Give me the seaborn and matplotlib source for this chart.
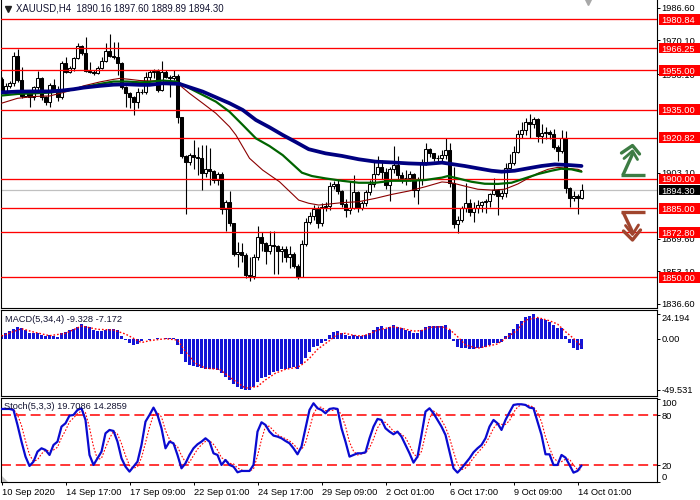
import numpy as np
import matplotlib
matplotlib.use("Agg")
import matplotlib.pyplot as plt
from matplotlib.patches import Rectangle, Polygon
import seaborn as sns

sns.set_style("white")
plt.rcParams['font.family'] = ['Liberation Sans', 'DejaVu Sans']

# ---------------- data ----------------
title_text = "XAUUSD,H4  1890.16 1897.60 1889.89 1894.30"
macd_title = "MACD(5,34,4) -9.328 -7.172"
stoch_title = "Stoch(5,3,3) 19.7086 14.2859"

open_ = [1950.4, 1944.2, 1947.0, 1948.7, 1962.3, 1950.1, 1942.0, 1943.5, 1941.3, 1946.4,
         1950.9, 1941.3, 1939.1, 1947.6, 1945.0, 1941.3, 1958.9, 1954.3, 1956.0, 1961.1,
         1967.3, 1964.0, 1954.8, 1954.0, 1953.5, 1956.0, 1959.9, 1965.0, 1962.4, 1961.6,
         1958.5, 1946.4, 1943.3, 1941.3, 1939.1, 1944.2, 1944.0, 1951.8, 1954.3, 1954.8,
         1945.0, 1954.3, 1951.8, 1950.9, 1952.1, 1931.2, 1911.6, 1908.7, 1912.0, 1911.2,
         1910.4, 1903.1, 1905.0, 1903.8, 1899.4, 1902.4, 1884.7, 1888.0, 1877.4, 1861.9,
         1863.1, 1861.6, 1851.3, 1850.5, 1860.6, 1870.7, 1867.3, 1863.6, 1866.5, 1865.7,
         1863.6, 1864.3, 1860.6, 1861.9, 1855.8, 1850.4, 1866.8, 1878.3, 1881.2, 1884.7,
         1877.5, 1885.6, 1886.1, 1896.4, 1897.4, 1893.6, 1887.0, 1884.2, 1885.0, 1893.1,
         1885.0, 1887.6, 1893.1, 1897.2, 1902.3, 1906.2, 1903.4, 1896.9, 1904.8, 1907.0,
         1901.9, 1900.3, 1900.2, 1902.4, 1894.4, 1899.6, 1908.7, 1915.0, 1913.0, 1910.4,
         1910.7, 1912.0, 1914.6, 1897.7, 1877.1, 1879.2, 1885.1, 1887.9, 1883.4, 1885.1,
         1886.7, 1888.1, 1888.6, 1892.2, 1894.4, 1891.4, 1892.8, 1905.6, 1908.2, 1913.8,
         1922.7, 1924.8, 1929.0, 1927.8, 1930.2, 1921.7, 1923.4, 1923.9, 1922.6, 1916.3,
         1914.3, 1920.5, 1895.2, 1890.1, 1891.5, 1890.16]
high = [1951.5, 1948.5, 1949.5, 1964.5, 1965.6, 1956.5, 1945.0, 1945.0, 1947.0, 1954.8,
        1951.5, 1942.0, 1948.5, 1950.4, 1947.0, 1959.5, 1961.9, 1957.0, 1961.9, 1968.7,
        1968.0, 1971.7, 1959.4, 1955.0, 1957.0, 1961.9, 1968.7, 1973.4, 1969.5, 1969.5,
        1959.0, 1947.0, 1944.0, 1942.0, 1946.0, 1945.5, 1954.3, 1955.0, 1955.5, 1955.5,
        1959.9, 1955.0, 1952.5, 1955.0, 1953.0, 1931.5, 1912.0, 1913.0, 1919.7, 1916.3,
        1917.0, 1917.0, 1915.5, 1904.5, 1903.5, 1903.5, 1889.5, 1894.0, 1877.5, 1868.2,
        1867.7, 1862.5, 1860.6, 1862.0, 1876.0, 1872.8, 1868.0, 1873.6, 1873.6, 1866.5,
        1866.0, 1865.7, 1866.0, 1863.0, 1857.0, 1869.0, 1880.0, 1883.3, 1886.7, 1886.0,
        1887.5, 1888.0, 1898.6, 1899.0, 1900.0, 1894.5, 1889.6, 1899.0, 1901.9, 1894.0,
        1889.0, 1894.5, 1899.4, 1909.2, 1911.6, 1909.5, 1905.5, 1906.0, 1916.6, 1911.6,
        1903.5, 1904.5, 1904.0, 1903.0, 1901.0, 1910.0, 1918.3, 1915.5, 1913.0, 1912.0,
        1914.6, 1920.5, 1918.0, 1906.0, 1881.0, 1886.0, 1897.7, 1890.0, 1888.0, 1889.3,
        1889.0, 1889.6, 1893.0, 1900.3, 1895.0, 1894.5, 1908.2, 1912.6, 1916.8, 1924.8,
        1929.0, 1931.0, 1932.9, 1931.5, 1931.0, 1928.0, 1926.5, 1924.8, 1925.4, 1917.0,
        1924.5, 1924.0, 1896.0, 1893.6, 1892.5, 1897.60]
low = [1943.5, 1943.5, 1946.0, 1947.0, 1949.0, 1941.0, 1941.5, 1936.6, 1940.0, 1945.0,
       1940.0, 1937.4, 1936.6, 1944.0, 1939.6, 1940.5, 1953.5, 1953.5, 1954.5, 1960.5,
       1963.0, 1954.0, 1953.5, 1952.5, 1953.0, 1955.5, 1959.0, 1961.5, 1960.5, 1952.6,
       1945.5, 1936.6, 1935.7, 1932.3, 1936.0, 1943.0, 1943.0, 1950.0, 1951.0, 1944.0,
       1944.5, 1951.0, 1941.6, 1950.0, 1928.2, 1910.5, 1882.2, 1907.0, 1905.0, 1902.0,
       1894.3, 1901.0, 1896.9, 1898.0, 1897.0, 1882.0, 1873.4, 1876.0, 1861.0, 1855.5,
       1858.0, 1849.8, 1848.4, 1849.0, 1859.0, 1863.5, 1857.0, 1862.0, 1852.0, 1852.0,
       1858.0, 1858.0, 1855.0, 1855.0, 1849.0, 1850.0, 1866.0, 1877.0, 1879.0, 1874.9,
       1876.0, 1883.5, 1884.0, 1895.0, 1892.5, 1885.5, 1880.8, 1882.0, 1884.5, 1883.0,
       1884.0, 1886.0, 1892.0, 1896.0, 1902.0, 1900.0, 1895.0, 1889.0, 1903.0, 1900.0,
       1898.0, 1897.0, 1899.0, 1891.0, 1887.0, 1897.0, 1907.0, 1911.0, 1909.0, 1908.0,
       1909.0, 1910.0, 1896.0, 1874.9, 1872.7, 1878.0, 1883.0, 1881.0, 1878.3, 1882.9,
       1883.0, 1882.9, 1885.9, 1892.0, 1881.7, 1890.0, 1891.0, 1905.0, 1907.0, 1913.0,
       1920.5, 1922.0, 1920.5, 1926.0, 1918.8, 1918.0, 1920.0, 1920.0, 1915.0, 1909.0,
       1913.0, 1893.0, 1885.9, 1888.5, 1882.2, 1889.89]
close = [1944.2, 1947.0, 1948.7, 1962.3, 1950.1, 1942.0, 1943.5, 1941.3, 1946.4, 1950.9,
         1941.3, 1939.1, 1947.6, 1945.0, 1941.3, 1958.9, 1954.3, 1956.0, 1961.1, 1967.3,
         1964.0, 1954.8, 1954.0, 1953.5, 1956.0, 1959.9, 1965.0, 1962.4, 1961.6, 1958.5,
         1946.4, 1943.3, 1941.3, 1939.1, 1944.2, 1944.0, 1951.8, 1954.3, 1954.8, 1945.0,
         1954.3, 1951.8, 1950.9, 1952.1, 1931.2, 1911.6, 1908.7, 1912.0, 1911.2, 1910.4,
         1903.1, 1905.0, 1903.8, 1899.4, 1902.4, 1884.7, 1888.0, 1877.4, 1861.9, 1863.1,
         1861.6, 1851.3, 1850.5, 1860.6, 1870.7, 1867.3, 1863.6, 1866.5, 1865.7, 1863.6,
         1864.3, 1860.6, 1861.9, 1855.8, 1850.4, 1866.8, 1878.3, 1881.2, 1884.7, 1877.5,
         1885.6, 1886.1, 1896.4, 1897.4, 1893.6, 1887.0, 1884.2, 1885.0, 1893.1, 1885.0,
         1887.6, 1893.1, 1897.2, 1902.3, 1906.2, 1903.4, 1896.9, 1904.8, 1907.0, 1901.9,
         1900.3, 1900.2, 1902.4, 1894.4, 1899.6, 1908.7, 1915.0, 1913.0, 1910.4, 1910.7,
         1912.0, 1914.6, 1897.7, 1877.1, 1879.2, 1885.1, 1887.9, 1883.4, 1885.1, 1886.7,
         1888.1, 1888.6, 1892.2, 1894.4, 1891.4, 1892.8, 1905.6, 1908.2, 1913.8, 1922.7,
         1924.8, 1929.0, 1927.8, 1930.2, 1921.7, 1923.4, 1923.9, 1922.6, 1916.3, 1914.3,
         1920.5, 1895.2, 1890.1, 1891.5, 1890.16, 1894.30]

# moving averages (bar index, price)
ma_slow_x = [0, 4, 8, 12, 15, 18, 20.5, 24.6, 28, 31.3, 34.6, 37, 40.3, 44.5, 47, 50.3, 53.6,
             57, 60.3, 63.6, 67, 70.3, 73.6, 76.8, 81, 85.1, 89.3, 93.5, 97.6, 101.8, 106,
             110.1, 112.5, 115.8, 119.1, 122.5, 125, 128.3, 131.6, 135, 138.3, 141.6, 145]
ma_slow_y = [1943.8, 1944.2, 1944.3, 1944.3, 1944.7, 1945.4, 1946.2, 1947.1, 1947.7, 1947.9,
             1947.6, 1947.6, 1948.4, 1948.1, 1946.4, 1944.2, 1941.3, 1938.3, 1934.9, 1929.8,
             1926.1, 1922.2, 1918.6, 1915.0, 1912.9, 1911.6, 1909.9, 1908.7, 1908.3, 1907.8,
             1907.5, 1908.2, 1907.5, 1906.5, 1905.3, 1904.1, 1903.6, 1904.1, 1905.3, 1906.5,
             1907.3, 1907.0, 1906.5]
ma_mid_x = [0, 4, 8, 12, 16.3, 20.5, 24.6, 28, 31.3, 34.6, 37, 40.3, 43.6, 47, 50.3, 53.6, 57,
            60.3, 63.6, 67, 70.3, 73, 75.1, 77.6, 81, 85.1, 89.3, 93.5, 97.6, 101.8, 106,
            110.1, 111.6, 114.1, 117.5, 120.8, 124.1, 127.5, 130.8, 134.1, 137.5, 139.9,
            142.5, 145]
ma_mid_y = [1942.2, 1943.0, 1943.3, 1943.7, 1944.7, 1946.4, 1948.1, 1949.3, 1949.3, 1948.9,
            1949.1, 1949.8, 1949.3, 1945.9, 1942.5, 1939.1, 1934.0, 1927.3, 1920.5, 1916.6,
            1912.0, 1907.0, 1903.1, 1901.4, 1900.2, 1899.0, 1898.0, 1898.0, 1899.0, 1899.0,
            1899.4, 1900.6, 1901.4, 1900.2, 1898.5, 1897.5, 1897.4, 1898.0, 1900.2, 1902.4,
            1904.1, 1905.1, 1904.8, 1903.6]
ma_fast_x = [0, 4, 8, 12.1, 16.3, 20.5, 24.6, 28, 29.6, 32.1, 34.6, 37, 40.3, 44, 47, 50.3,
             53.6, 57, 58.6, 60.3, 62, 65.3, 69.5, 72.6, 74.3, 76.8, 79.3, 81.8, 85.1, 89.3,
             93.5, 97.6, 101.8, 106, 110.1, 112.5, 115.8, 119.1, 122.5, 125.8, 129.1, 131.6,
             134.1, 136.6, 139.1, 141.6, 144.1, 145]
ma_fast_y = [1938.3, 1940.8, 1941.7, 1942.0, 1944.2, 1947.1, 1949.1, 1950.4, 1950.9, 1950.4,
             1949.8, 1949.6, 1949.8, 1948.4, 1943.3, 1938.3, 1933.2, 1926.4, 1922.2, 1916.3,
             1910.4, 1904.4, 1898.5, 1892.5, 1889.2, 1887.6, 1886.7, 1887.2, 1887.9, 1888.4,
             1890.1, 1892.1, 1893.8, 1896.0, 1898.4, 1898.0, 1896.3, 1894.7, 1894.3, 1894.7,
             1897.4, 1900.2, 1902.8, 1904.8, 1905.8, 1905.3, 1904.8, 1904.1]

levels = [1980.84, 1966.25, 1955.00, 1935.00, 1920.82, 1900.00, 1885.00, 1872.80, 1850.00]
current_price = 1894.30
# price-scale labels that stay at least partly visible beside the level boxes
price_ticks = [1986.60, 1970.10, 1953.10, 1903.10, 1869.60, 1853.10, 1836.60]

macd_hist = [3.9, 5.5, 7.4, 9.4, 11.9, 10.6, 8.7, 6.1, 5.5, 6.1,
             4.2, 3.2, 3.5, 2.9, 1.9, 6.1, 6.8, 8.7, 10.0, 11.9,
             14.5, 12.6, 11.9, 8.7, 7.7, 7.7, 8.7, 10.0, 9.4, 8.7,
             2.9, -1.0, -3.5, -5.8, -4.8, -2.3, -0.3, -0.6, 0.3, 1.0,
             0.4, 1.3, 0.6, 0.6, -5.8, -14.8, -21.9, -25.2, -26.1, -27.4,
             -28.4, -28.7, -29.0, -29.4, -30.0, -33.2, -36.5, -39.7, -43.5, -46.8,
             -48.7, -49.3, -49.531, -46.8, -41.3, -38.1, -36.5, -34.8, -31.6, -30.6,
             -29.4, -29.0, -28.4, -27.4, -29.0, -24.2, -18.1, -12.3, -8.1, -6.8,
             -3.5, -1.9, 3.9, 6.8, 7.7, 5.5, 3.9, 2.9, 3.5, 2.9,
             2.9, 3.9, 5.8, 8.4, 11.6, 12.6, 9.7, 11.6, 13.5, 11.9,
             11.0, 8.7, 7.7, 6.1, 6.1, 8.7, 11.6, 12.6, 12.6, 12.6,
             12.6, 13.5, 8.7, -1.6, -7.4, -8.4, -8.4, -9.4, -9.4, -9.0,
             -8.4, -8.1, -5.8, -3.5, -3.5, -2.6, 2.9, 5.8, 9.7, 14.5,
             17.4, 21.3, 22.3, 24.194, 20.6, 19.4, 18.4, 16.5, 13.5, 10.6,
             10.6, 2.9, -3.5, -8.4, -10.6, -9.328]
macd_sig_x = [0, 5, 8, 12, 16, 20, 24, 28, 31, 35, 37, 41, 44, 46, 48.5, 51, 54.5, 58, 61, 64,
              66, 68.5, 71, 74, 75, 77, 79, 82, 84, 86, 88, 90, 92, 94, 96, 98, 100, 103, 105,
              107, 110, 112, 114, 116, 119, 121, 124, 126, 129, 131, 134, 137, 139, 141, 143,
              145]
macd_sig_y = [2.9, 10.0, 6.8, 3.2, 5.5, 12.6, 9.4, 8.7, 4.8, -3.5, -1.6, 0.3, -1.0, -12.3,
              -23.5, -28.4, -29.4, -39.7, -47.7, -46.1, -39.7, -33.2, -29.4, -27.4, -25.2,
              -18.7, -10.0, -1.6, 4.8, 5.5, 3.5, 2.9, 4.8, 8.7, 10.3, 11.9, 10.3, 7.7, 8.1,
              11.3, 11.9, 9.4, 2.3, -5.8, -9.0, -7.4, -4.8, 0.6, 8.7, 18.4, 20.9, 17.7, 14.5,
              7.1, 0.6, -7.172]
macd_ticks = [24.194, 0.0, -49.531]
macd_tick_labels = ["24.194", "0.00", "-49.531"]

stoch_k = [87.6, 87.6, 87.6, 86.4, 68.4, 48.4, 30.4, 19.2, 24.4, 36.4,
           40.4, 38.4, 32.4, 44.4, 48.4, 66.4, 70.4, 79.6, 80.4, 86.4,
           88.4, 74.4, 32.4, 20.4, 28.4, 36.4, 58.4, 62.4, 61.2, 48.4,
           28.4, 18.4, 12.4, 18.4, 24.4, 44.4, 72.4, 80.4, 89.2, 80.4,
           64.4, 40.4, 48.4, 46.4, 32.4, 16.4, 22.4, 32.4, 40.4, 45.2,
           48.4, 52.4, 48.4, 34.4, 32.4, 20.4, 26.4, 20.4, 18.4, 11.6,
           13.2, 13.2, 13.2, 20.4, 60.4, 71.6, 68.4, 60.4, 55.6, 54.4,
           52.4, 49.2, 46.4, 40.4, 33.2, 42.4, 64.4, 86.4, 94.4, 88.4,
           86.4, 82.4, 87.6, 88.4, 87.6, 64.4, 48.4, 30.4, 32.4, 34.4,
           34.4, 35.6, 52.4, 66.4, 75.6, 74.4, 64.4, 60.4, 57.2, 60.4,
           54.4, 44.4, 34.4, 23.2, 30.4, 56.4, 84.4, 88.4, 82.4, 74.4,
           66.4, 56.4, 36.4, 16.4, 11.2, 16.4, 22.4, 28.4, 35.6, 40.4,
           44.4, 52.4, 66.4, 74.4, 70.4, 62.4, 74.4, 83.6, 92.4, 93.2,
           93.2, 92.4, 89.2, 88.4, 72.4, 56.4, 33.2, 33.2, 20.4, 20.4,
           32.4, 29.2, 20.4, 11.2, 13.2, 19.7086]
stoch_d = [88.0, 88.0, 87.6, 87.2, 80.8, 67.7, 49.1, 32.7, 24.7, 26.7,
           33.7, 38.4, 37.1, 38.4, 41.7, 53.1, 61.7, 72.1, 76.8, 82.1,
           85.1, 83.1, 65.1, 42.4, 27.1, 28.4, 41.1, 52.4, 60.7, 57.3,
           46.0, 31.7, 19.7, 16.4, 18.4, 29.1, 47.1, 65.7, 80.7, 83.3,
           78.0, 61.7, 51.1, 45.1, 42.4, 31.7, 23.7, 23.7, 31.7, 39.3,
           44.7, 48.7, 49.7, 45.1, 38.4, 29.1, 26.4, 22.4, 21.7, 16.8,
           14.4, 12.7, 13.2, 15.6, 31.3, 50.8, 66.8, 66.8, 61.5, 56.8,
           54.1, 52.0, 49.3, 45.3, 40.0, 38.7, 46.7, 64.4, 81.7, 89.7,
           89.7, 85.7, 85.5, 86.1, 87.9, 80.1, 66.8, 47.7, 37.1, 32.4,
           33.7, 34.8, 40.8, 51.5, 64.8, 72.1, 71.5, 66.4, 60.7, 59.3,
           57.3, 53.1, 44.4, 34.0, 29.3, 36.7, 57.1, 76.4, 85.1, 81.7,
           74.4, 65.7, 53.1, 36.4, 21.3, 14.7, 16.7, 22.4, 28.8, 34.8,
           40.1, 45.7, 54.4, 64.4, 70.4, 69.1, 69.1, 73.5, 83.5, 89.7,
           92.9, 92.9, 91.6, 89.9, 83.3, 72.3, 54.0, 40.9, 28.9, 24.6,
           24.4, 27.3, 27.3, 20.3, 14.9, 14.2859]
stoch_levels = [80, 20]
stoch_ticks = [100, 80, 20, 0]

date_tick_bars = [0, 16, 32, 48, 64, 80, 96, 112, 128, 144]
date_tick_labels = ["10 Sep 2020", "14 Sep 17:00", "17 Sep 09:00", "22 Sep 01:00",
                    "24 Sep 17:00", "29 Sep 09:00", "2 Oct 01:00", "6 Oct 17:00",
                    "9 Oct 09:00", "14 Oct 01:00"]

# ---------------- layout ----------------
W, H = 700, 500
FS = 6.7


def rect(left, top, right, bottom):
    return [left / W, 1 - bottom / H, (right - left) / W, (bottom - top) / H]


fig = plt.figure(figsize=(7, 5), dpi=100)
fig.patch.set_facecolor("white")
ax = fig.add_axes(rect(1, 0.5, 657, 307.7))
axm = fig.add_axes(rect(1, 310.3, 657, 395.7), sharex=ax)
axs = fig.add_axes(rect(1, 397.7, 657, 482.3), sharex=ax)

for a in (ax, axm, axs):
    a.set_facecolor("white")
    for sp in a.spines.values():
        sp.set_color("black")
        sp.set_linewidth(0.8)
    a.yaxis.tick_right()
    a.tick_params(axis="y", right=True, left=False, direction="out", length=2.2,
                  width=0.7, pad=1.2, labelsize=FS, colors="black")
    a.tick_params(axis="x", bottom=False, labelbottom=False)
    a.grid(False)
ax.spines["top"].set_visible(False)

ax.set_xlim(-0.125, 163.875)

# ---------------- main price panel ----------------
x = np.arange(len(close))
o = np.array(open_)
c = np.array(close)
h = np.array(high)
l = np.array(low)
up = c >= o
ax.vlines(x, l, h, color="black", lw=0.8, zorder=3)
heights = np.where(np.abs(c - o) < 0.12, 0.12, c - o)
ax.bar(x, heights, bottom=o, width=0.52, color=np.where(up, "white", "black"),
       edgecolor="black", linewidth=0.75, zorder=4)

for lvl in levels:
    ax.axhline(lvl, color="#ff0000", lw=0.95, zorder=4.5)
ax.axhline(current_price, color="#c0c0c0", lw=0.9, zorder=1)

sns.lineplot(x=ma_fast_x, y=ma_fast_y, ax=ax, color="#8b0000", linewidth=0.8, zorder=5)
sns.lineplot(x=ma_mid_x, y=ma_mid_y, ax=ax, color="#006400", linewidth=1.6, zorder=5.1)
sns.lineplot(x=ma_slow_x, y=ma_slow_y, ax=ax, color="#000080", linewidth=2.7, zorder=5.2)

ax.set_ylim(1834.67, 1990.37)
ax.set_yticks(price_ticks)
ax.set_yticklabels([f"{p:.2f}" for p in price_ticks])
ax.set_ylabel("")
ax.set_xlabel("")

# level label boxes on the price scale
ytr = ax.get_yaxis_transform()
box_h = 10.5 / 1.973
for lvl in levels:
    ax.add_patch(Rectangle((1 + 1.5 / 656, lvl - box_h / 2), 41.5 / 656, box_h,
                           transform=ytr, facecolor="#ff0000", edgecolor="none",
                           clip_on=False, zorder=10))
    ax.text(1 + 4.5 / 656, lvl, f"{lvl:.2f}", transform=ytr, color="white",
            fontsize=FS, ha="left", va="center_baseline", clip_on=False, zorder=11)
ax.add_patch(Rectangle((1 + 1.5 / 656, current_price - box_h / 2), 41.5 / 656, box_h,
                       transform=ytr, facecolor="black", edgecolor="none",
                       clip_on=False, zorder=10))
ax.text(1 + 4.5 / 656, current_price, f"{current_price:.2f}", transform=ytr, color="white",
        fontsize=FS, ha="left", va="center_baseline", clip_on=False, zorder=11)

# ---------------- MACD panel ----------------
axm.bar(x, macd_hist, width=0.66, color="#1414d6", linewidth=0, zorder=2)
sns.lineplot(x=macd_sig_x, y=macd_sig_y, ax=axm, color="#ff0000", linewidth=1.0,
             linestyle=(0, (1.2, 1.4)), zorder=3)
axm.set_ylim(-55.05, 27.86)
axm.set_yticks(macd_ticks)
axm.set_yticklabels(macd_tick_labels)
mlabels = axm.get_yticklabels()
mlabels[0].set_va("top")
mlabels[2].set_va("center")
axm.set_ylabel("")
axm.set_xlabel("")

# ---------------- Stochastic panel ----------------
for lv in stoch_levels:
    axs.axhline(lv, color="#ff0000", lw=1.1, linestyle=(0, (6.5, 3.2)), zorder=1)
sns.lineplot(x=x, y=stoch_d, ax=axs, color="#ff0000", linewidth=0.8,
             linestyle=(0, (1.5, 1.5)), zorder=2)
sns.lineplot(x=x, y=stoch_k, ax=axs, color="#0a0ad0", linewidth=1.6, zorder=3)
axs.set_ylim(-0.4, 101.1)
axs.set_yticks(stoch_ticks)
axs.set_yticklabels([str(t) for t in stoch_ticks])
slabels = axs.get_yticklabels()
slabels[0].set_va("top")
slabels[3].set_va("bottom")
axs.set_ylabel("")
axs.set_xlabel("")

axs.set_xticks(date_tick_bars)
axs.set_xticklabels(date_tick_labels, ha="left")
axs.tick_params(axis="x", bottom=True, labelbottom=True, direction="out", length=2.4,
                width=0.7, pad=2.0, labelsize=FS, colors="black")
ax.set_xlim(-0.125, 163.875)

# ---------------- overlay: titles and markers ----------------
ov = fig.add_axes([0, 0, 1, 1], facecolor="none", zorder=20)
ov.set_xlim(0, W)
ov.set_ylim(H, 0)
ov.axis("off")

ov.plot([7.5], [8.5], marker="v", markersize=4.2, color="#202020", linestyle="none")
ov.text(16, 8.5, title_text, fontsize=6.9, color="#141432", ha="left", va="center")
ov.text(5, 320, macd_title, fontsize=FS, color="#141432", ha="left", va="center")
ov.text(4, 406.5, stoch_title, fontsize=FS, color="#141432", ha="left", va="center")

ov.plot([588], [2.2], marker="v", markersize=5, color="#a8a8a8", linestyle="none")
ov.add_patch(Polygon([(1.5, 475.5), (1.5, 481.5), (7.5, 481.5)], closed=True,
                     facecolor="#c0c0c0", edgecolor="none"))

green = "#3d7c44"
brown = "#a0452e"
aw = 2.4
# up arrow (green)
ov.plot([621, 644.5], [175, 175], color=green, lw=aw, solid_capstyle="butt")
ov.plot([623, 633], [175, 153], color=green, lw=aw, solid_capstyle="butt")
ov.plot([621.5, 632.5, 639.5], [153, 145.5, 154], color=green, lw=aw)
ov.plot([624, 632.5, 637.5], [158.5, 151, 159.5], color=green, lw=aw * 0.85)
# down arrow (brown)
ov.plot([621, 644.5], [211.7, 211.7], color=brown, lw=aw, solid_capstyle="butt")
ov.plot([623, 633], [212, 233], color=brown, lw=aw, solid_capstyle="butt")
ov.plot([623.5, 632.5, 640.5], [231, 240, 230], color=brown, lw=aw)
ov.plot([625.5, 632.5, 638.5], [225.5, 234.5, 225], color=brown, lw=aw * 0.85)

fig.savefig("out.png", dpi=100, facecolor="white")
